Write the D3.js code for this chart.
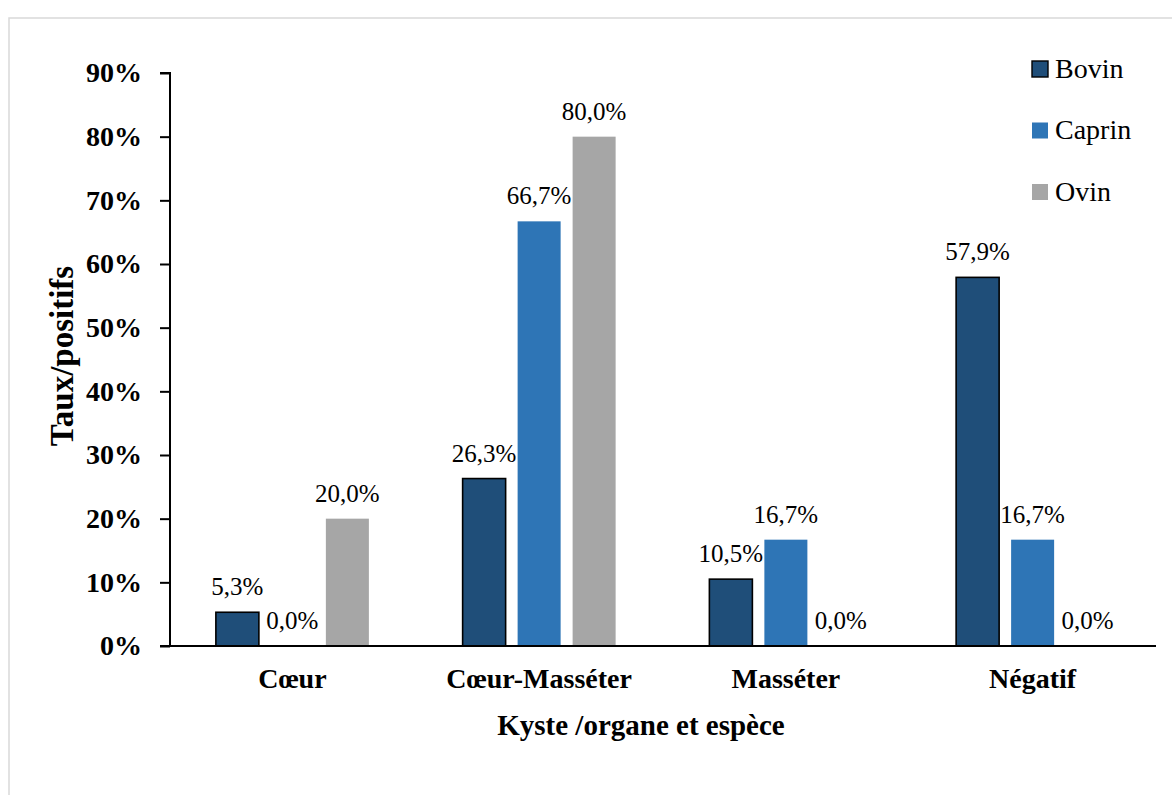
<!DOCTYPE html>
<html>
<head>
<meta charset="utf-8">
<script src="https://cdn.jsdelivr.net/npm/d3@7"></script>
<style>
  html, body { margin: 0; padding: 0; background: #ffffff; }
  svg { display: block; }
</style>
</head>
<body>
<svg id="chart" width="1172" height="795" font-family="'Times New Roman', 'Liberation Serif', serif"></svg>
<script>
// Categories (organ with cysts) and the three species series, in percent
const categories = ["Cœur", "Cœur-Masséter", "Masséter", "Négatif"];
const seriesNames = ["Bovin", "Caprin", "Ovin"];
const bovin  = [5.3, 26.3, 10.5, 57.9];
const caprin = [0.0, 66.7, 16.7, 16.7];
const ovin   = [20.0, 80.0, 0.0, 0.0];
const yTicks = [0, 10, 20, 30, 40, 50, 60, 70, 80, 90];

const seriesValues = [bovin, caprin, ovin];
const colors = { Bovin: "#1f4e79", Caprin: "#2e75b6", Ovin: "#a6a6a6" };
const SERIF = "'Times New Roman', 'Liberation Serif', serif";

const svg = d3.select("#chart");

// light frame around the chart area
svg.append("rect")
  .attr("x", 9).attr("y", 18)
  .attr("width", 1200).attr("height", 820)
  .attr("fill", "none")
  .attr("stroke", "#d9d9d9")
  .attr("stroke-width", 1.5);

const plotLeft = 169, plotRight = 1156, plotTop = 73, plotBottom = 646;

const y = d3.scaleLinear().domain([0, 90]).range([plotBottom, plotTop]);
const x0 = d3.scaleBand().domain(categories).range([plotLeft, plotRight]).padding(0);
const groupWidth = 153;
const x1 = d3.scaleBand().domain(seriesNames).range([0, groupWidth]).paddingInner(0.218).paddingOuter(0);

const fmt = v => d3.format(".1f")(v).replace(".", ",") + "%";

// bars
const groups = svg.append("g").selectAll("g")
  .data(categories)
  .join("g")
  .attr("transform", c => `translate(${x0(c) + (x0.bandwidth() - groupWidth) / 2},0)`);

groups.selectAll("rect")
  .data((c, i) => seriesNames.map((s, k) => ({ s, v: seriesValues[k][i] })))
  .join("rect")
  .attr("x", d => x1(d.s))
  .attr("y", d => y(d.v))
  .attr("width", x1.bandwidth())
  .attr("height", d => y(0) - y(d.v))
  .attr("fill", d => colors[d.s])
  .attr("stroke", d => d.s === "Bovin" ? "#000" : "none")
  .attr("stroke-width", 1.6);

// value labels above each bar
groups.selectAll("text.val")
  .data((c, i) => seriesNames.map((s, k) => ({ s, v: seriesValues[k][i] })))
  .join("text")
  .attr("class", "val")
  .attr("x", d => x1(d.s) + x1.bandwidth() / 2)
  .attr("y", d => y(d.v) - 17)
  .attr("text-anchor", "middle")
  .style("font-family", SERIF)
  .style("font-size", "25px")
  .attr("fill", "#000")
  .text(d => fmt(d.v));

// y axis
const yAxis = d3.axisLeft(y)
  .tickValues(yTicks)
  .tickFormat(d => d + "%")
  .tickSize(10)
  .tickPadding(18);
const gy = svg.append("g").attr("transform", `translate(${plotLeft + 1},0)`).call(yAxis);
gy.select(".domain").attr("stroke", "#000").attr("stroke-width", 2).attr("d", `M-10,${plotTop}H0V${plotBottom}H-10`);
gy.selectAll(".tick line").attr("stroke", "#000").attr("stroke-width", 2);
gy.selectAll(".tick text")
  .style("font-family", SERIF)
  .style("font-size", "28px")
  .style("font-weight", "bold")
  .attr("fill", "#000");

// x axis
const xAxis = d3.axisBottom(x0).tickSize(0).tickPadding(30);
const gx = svg.append("g").attr("transform", `translate(0,${plotBottom})`).call(xAxis);
gx.select(".domain").attr("stroke", "#000").attr("stroke-width", 2).attr("d", `M${plotLeft - 9},0H${plotRight}`);
gx.selectAll(".tick text")
  .style("font-family", SERIF)
  .style("font-size", "28px")
  .style("font-weight", "bold")
  .attr("fill", "#000")
  .attr("dy", "0.71em")
  .attr("y", 22);

// axis titles
svg.append("text")
  .attr("x", 641).attr("y", 735)
  .attr("text-anchor", "middle")
  .style("font-family", SERIF)
  .style("font-size", "29px")
  .style("font-weight", "bold")
  .attr("fill", "#000")
  .text("Kyste /organe et espèce");

svg.append("text")
  .attr("transform", "translate(73,356) rotate(-90)")
  .attr("text-anchor", "middle")
  .style("font-family", SERIF)
  .style("font-size", "33px")
  .style("font-weight", "bold")
  .attr("fill", "#000")
  .text("Taux/positifs");

// legend
const legend = svg.append("g").selectAll("g")
  .data(seriesNames)
  .join("g")
  .attr("transform", (d, i) => `translate(1032,${69 + i * 61.5})`);

legend.append("rect")
  .attr("x", 0).attr("y", -8)
  .attr("width", 16).attr("height", 16)
  .attr("fill", d => colors[d])
  .attr("stroke", d => d === "Bovin" ? "#000" : "none")
  .attr("stroke-width", 1.4);

legend.append("text")
  .attr("x", 23).attr("y", 8.5)
  .style("font-family", SERIF)
  .style("font-size", "28px")
  .attr("fill", "#000")
  .text(d => d);
</script>
</body>
</html>
